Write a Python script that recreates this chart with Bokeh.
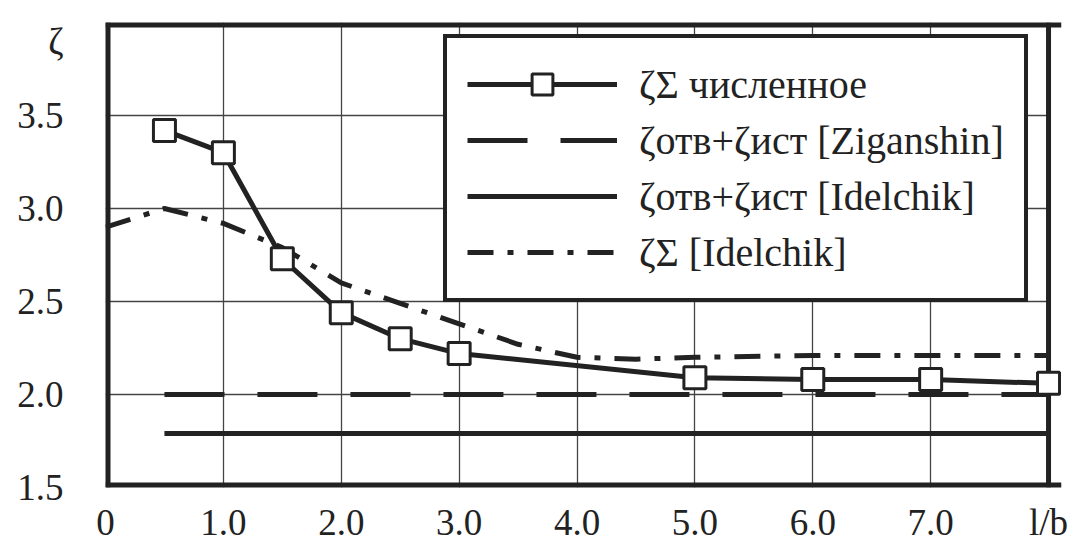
from bokeh.plotting import figure
from bokeh.models import Range1d, FixedTicker, Legend, LegendItem, Span, BoxAnnotation
from bokeh.embed import file_html
from bokeh.resources import INLINE

# ---- data ----
num_x = [0.5, 1.0, 1.5, 2.0, 2.5, 3.0, 5.0, 6.0, 7.0, 8.0]
num_y = [3.42, 3.30, 2.73, 2.44, 2.30, 2.22, 2.09, 2.08, 2.08, 2.06]

zig_x = [0.5, 8.0]
zig_y = [2.0, 2.0]

idel_x = [0.5, 8.0]
idel_y = [1.79, 1.79]

idsum_x = [0.0, 0.5, 1.0, 1.5, 2.0, 2.5, 3.0, 3.5, 4.0, 4.5, 5.0, 6.0, 7.0, 8.0]
idsum_y = [2.90, 3.00, 2.92, 2.79, 2.60, 2.49, 2.38, 2.27, 2.20, 2.19, 2.20, 2.21, 2.21, 2.21]

x_tick_values = [0, 1, 2, 3, 4, 5, 6, 7, 8]
x_tick_labels = ["0", "1.0", "2.0", "3.0", "4.0", "5.0", "6.0", "7.0", "l/b"]
y_tick_values = [1.5, 2.0, 2.5, 3.0, 3.5, 3.9]
y_tick_labels = ["1.5", "2.0", "2.5", "3.0", "3.5", "ζ"]
grid_x = [1, 2, 3, 4, 5, 6, 7]
grid_y = [2.0, 2.5, 3.0, 3.5]

legend_labels = ["ζΣ численное", "ζотв+ζист [Ziganshin]",
                 "ζотв+ζист [Idelchik]", "ζΣ [Idelchik]"]

X_MIN, X_MAX = 0.0, 8.0
Y_MIN, Y_MAX = 1.5, 4.0

FONT = "Liberation Serif"
INK = "#222222"

p = figure(width=1083, height=545, output_backend="svg", toolbar_location=None,
           x_range=Range1d(X_MIN, X_MAX + 0.11), y_range=Range1d(Y_MIN, Y_MAX),
           min_border_left=105, min_border_right=22, min_border_top=22,
           min_border_bottom=58)
p.background_fill_color = "white"
p.border_fill_color = "white"
p.outline_line_color = None

# axes
p.xaxis.ticker = FixedTicker(ticks=x_tick_values)
p.yaxis.ticker = FixedTicker(ticks=y_tick_values)
p.xaxis.major_label_overrides = dict(zip(x_tick_values, x_tick_labels))
p.yaxis.major_label_overrides = dict(zip(y_tick_values, y_tick_labels))
for ax in (p.xaxis, p.yaxis):
    ax.axis_line_color = None
    ax.major_tick_line_color = None
    ax.minor_tick_line_color = None
    ax.major_label_text_font = FONT
    ax.major_label_text_font_size = "37px"
    ax.major_label_text_color = INK
p.xaxis.major_label_standoff = 8
p.yaxis.major_label_standoff = 36

p.xgrid.ticker = FixedTicker(ticks=grid_x)
p.ygrid.ticker = FixedTicker(ticks=grid_y)
p.ygrid.cross_bounds = (X_MIN, X_MAX)
for g in (p.xgrid, p.ygrid):
    g.grid_line_color = "#444444"
    g.grid_line_width = 1.3

# blank out the sliver right of x = 8 and draw the frame under the marks
p.add_layout(BoxAnnotation(left=X_MAX, fill_color="white", fill_alpha=1.0,
                           line_color=None, level="underlay"))
for loc, dim, w in ((X_MIN, "height", 10), (X_MAX, "height", 5),
                    (Y_MIN, "width", 10), (Y_MAX, "width", 10)):
    p.add_layout(Span(location=loc, dimension=dim, line_color=INK, line_width=w,
                      level="underlay"))

# series
r_idsum = p.line(idsum_x, idsum_y, line_color=INK, line_width=5, line_dash="26 14 6 14")
r_idel = p.line(idel_x, idel_y, line_color=INK, line_width=5)
r_zig = p.line(zig_x, zig_y, line_color=INK, line_width=5, line_dash="60 33")
r_num_line = p.line(num_x, num_y, line_color=INK, line_width=5)
r_num_pts = p.scatter(num_x, num_y, marker="square", size=22, fill_color="white",
                      line_color=INK, line_width=3)

legend = Legend(items=[
    LegendItem(label=legend_labels[0], renderers=[r_num_line, r_num_pts]),
    LegendItem(label=legend_labels[1], renderers=[r_zig]),
    LegendItem(label=legend_labels[2], renderers=[r_idel]),
    LegendItem(label=legend_labels[3], renderers=[r_idsum]),
], location=(338, 185))
legend.margin = 0
legend.padding = 20
legend.spacing = 4
legend.label_height = 52
legend.glyph_height = 52
legend.glyph_width = 150
legend.label_standoff = 22
legend.label_text_font = FONT
legend.label_text_font_size = "40px"
legend.label_text_color = INK
legend.border_line_color = INK
legend.border_line_alpha = 1.0
legend.border_line_width = 4
legend.background_fill_color = "white"
legend.background_fill_alpha = 1.0
p.add_layout(legend, "center")

open("out.html", "w").write(file_html(p, INLINE))
